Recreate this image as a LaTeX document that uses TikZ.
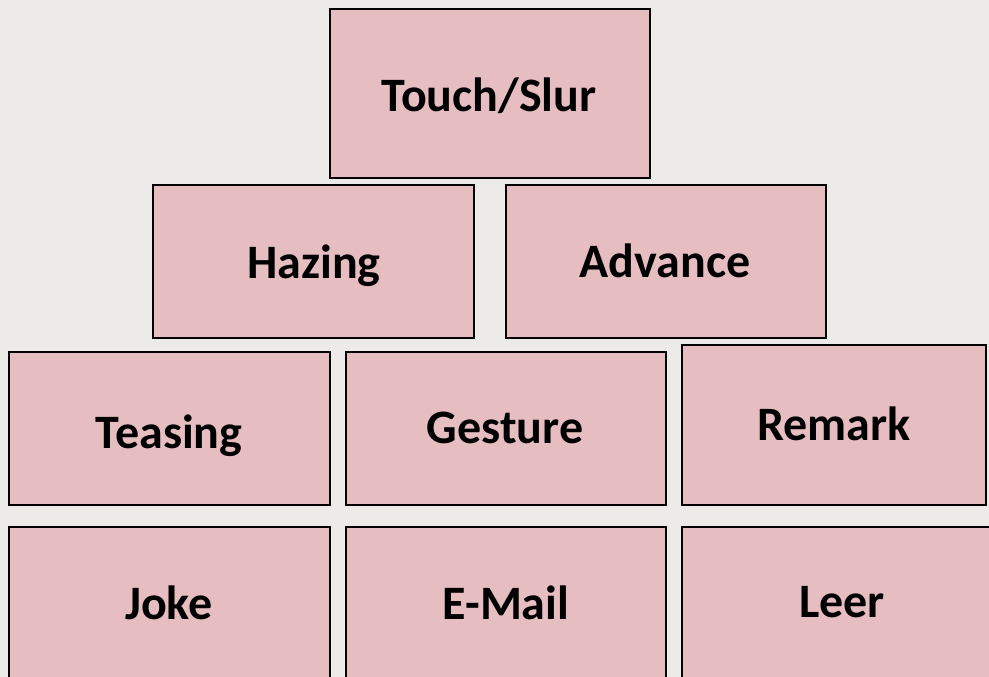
\documentclass[tikz,border=0pt]{standalone}
\usepackage{fontspec}
\setmainfont{Carlito}
\definecolor{bgcol}{RGB}{236,235,231}
\definecolor{boxfill}{RGB}{230,189,193}
\tikzset{
  tile/.style={draw=black, line width=2pt, fill=boxfill, rectangle, inner sep=0pt},
  lbl/.style={anchor=base, inner sep=0pt, font=\fontsize{48}{52}\selectfont\bfseries, text=black}
}
\begin{document}
\begin{tikzpicture}[x=1pt,y=-1pt]
\useasboundingbox (0,0) rectangle (989,677);
\clip (0,0) rectangle (989,677);
\fill[bgcol] (0,0) rectangle (989,677);
% boxes
\node[tile, minimum width=320pt, minimum height=169pt] (touch) at (490,93.5) {};
\node[tile, minimum width=321pt, minimum height=153pt] (hazing) at (313.5,261.5) {};
\node[tile, minimum width=320pt, minimum height=153pt] (advance) at (666,261.5) {};
\node[tile, minimum width=321pt, minimum height=153pt] (teasing) at (169.5,428.5) {};
\node[tile, minimum width=320pt, minimum height=153pt] (gesture) at (506,428.5) {};
\node[tile, minimum width=304pt, minimum height=160pt] (remark) at (834,425) {};
\node[tile, minimum width=321pt, minimum height=154pt] (joke) at (169.5,604) {};
\node[tile, minimum width=320pt, minimum height=154pt] (email) at (506,604) {};
\node[tile, minimum width=320pt, minimum height=154pt] (leer) at (842,604) {};
% labels
\node[lbl] (touchL) at (489,112) {Touch/Slur};
\node[lbl] (hazingL) at (314,278) {Hazing};
\node[lbl] (advanceL) at (665,277) {Advance};
\node[lbl] (teasingL) at (169,448) {Teasing};
\node[lbl] (gestureL) at (505,443) {Gesture};
\node[lbl] (remarkL) at (834,440) {Remark};
\node[lbl] (jokeL) at (169,619) {Joke};
\node[lbl] (emailL) at (506,619) {E-Mail};
\node[lbl] (leerL) at (842,617) {Leer};
\end{tikzpicture}
\end{document}
